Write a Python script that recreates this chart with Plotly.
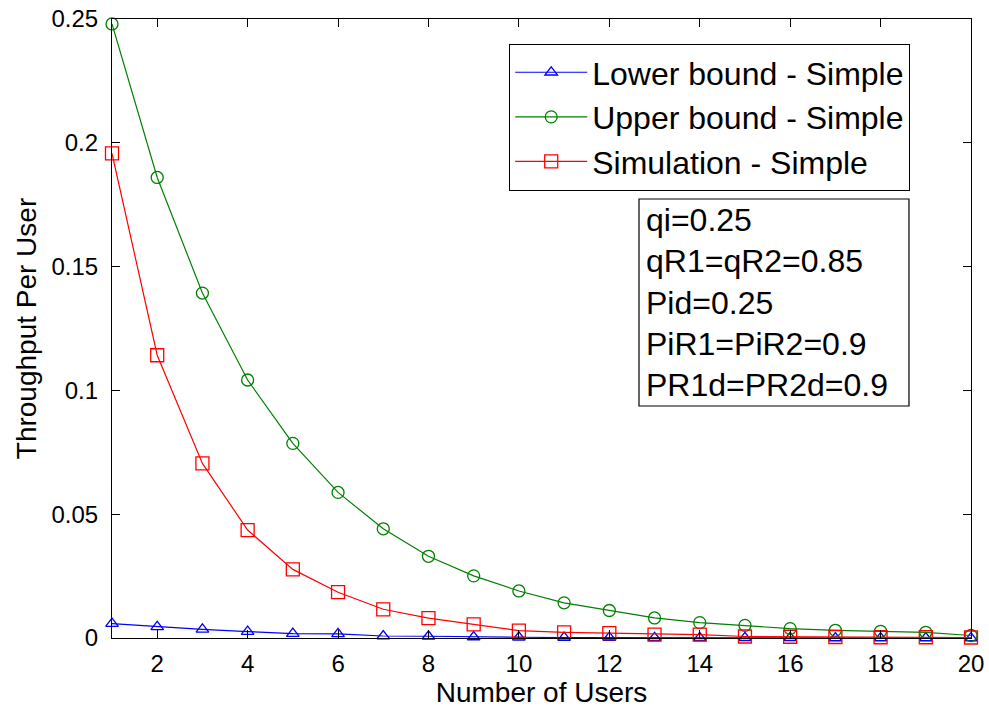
import plotly.graph_objects as go

# Number of users on the x axis
users = list(range(1, 21))

# Throughput per user for each curve
lower_bound = [0.0058, 0.0045, 0.0035, 0.0026, 0.0018, 0.0017, 0.0008, 0.0007, 0.0004, 0.0003,
               0.0002, 0.0002, 0.0001, 0.0001, 0.0001, 0.0001, 0.0, 0.0, 0.0, 0.0]
upper_bound = [0.248, 0.186, 0.1393, 0.1042, 0.0786, 0.0588, 0.0441, 0.0330, 0.0251, 0.0190,
               0.0142, 0.0111, 0.0081, 0.0062, 0.0051, 0.0038, 0.0031, 0.0027, 0.0023, 0.0010]
simulation = [0.1957, 0.1142, 0.0705, 0.0436, 0.0277, 0.0185, 0.0116, 0.0080, 0.0055, 0.0030,
              0.0023, 0.0020, 0.0014, 0.0014, 0.0006, 0.0005, 0.0004, 0.0003, 0.0003, 0.0002]

series_names = ["Lower bound - Simple", "Upper bound - Simple", "Simulation - Simple"]
x_ticks = [2, 4, 6, 8, 10, 12, 14, 16, 18, 20]
y_ticks = [0, 0.05, 0.1, 0.15, 0.2, 0.25]
y_tick_text = ["0", "0.05", "0.1", "0.15", "0.2", "0.25"]
params_text = ["qi=0.25", "qR1=qR2=0.85", "Pid=0.25", "PiR1=PiR2=0.9", "PR1d=PR2d=0.9"]

FONT = "Liberation Sans, Arial, sans-serif"

fig = go.Figure()
styles = [
    (lower_bound, "#0000ff", "triangle-up-open", 11),
    (upper_bound, "#008000", "circle-open", 12),
    (simulation, "#ff0000", "square-open", 13),
]
for name, (vals, color, symbol, size) in zip(series_names, styles):
    fig.add_trace(go.Scatter(
        x=users, y=vals, name=name, mode="lines+markers",
        line=dict(color=color, width=1.2),
        marker=dict(symbol=symbol, size=size, color=color, line=dict(width=1.3, color=color)),
        cliponaxis=False,
    ))

axis_common = dict(
    showline=True, linecolor="black", linewidth=1.2, mirror="ticks",
    ticks="inside", ticklen=8, tickcolor="black", tickwidth=1.2,
    showgrid=False, zeroline=False, automargin=False,
    tickfont=dict(family=FONT, size=24, color="black"),
)

fig.update_xaxes(
    range=[1, 20], tickvals=x_ticks, ticklabelstandoff=4,
    title=dict(text="Number of Users", font=dict(family=FONT, size=28, color="black"), standoff=4),
    **axis_common,
)
fig.update_yaxes(
    range=[0, 0.25], tickvals=y_ticks, ticktext=y_tick_text, ticklabelstandoff=8,
    title=dict(text="Throughput Per User", font=dict(family=FONT, size=28, color="black"), standoff=6),
    **axis_common,
)

# Parameter box: a framed rectangle with one text line per parameter
box_x0, box_x1, box_y0, box_y1 = 0.6135, 0.9278, 0.3748, 0.7092
fig.add_shape(
    type="rect", xref="paper", yref="paper",
    x0=box_x0, x1=box_x1, y0=box_y0, y1=box_y1,
    line=dict(color="black", width=1.2), fillcolor="white", layer="above",
)
line_step = (box_y1 - box_y0) / len(params_text)
for i, line in enumerate(params_text):
    fig.add_annotation(
        xref="paper", yref="paper", x=box_x0 + 0.006, y=box_y1 - line_step * (i + 0.5),
        xanchor="left", yanchor="middle", text=line, showarrow=False,
        font=dict(family=FONT, size=32, color="black"),
    )

fig.update_layout(
    width=989, height=711,
    margin=dict(l=112, r=18, t=19, b=73),
    paper_bgcolor="white", plot_bgcolor="white",
    font=dict(family=FONT, color="black"),
    legend=dict(
        x=0.929, y=0.96, xanchor="right", yanchor="top",
        bordercolor="black", borderwidth=1.2, bgcolor="white",
        font=dict(family=FONT, size=32, color="black"),
        itemwidth=72, tracegroupgap=0,
    ),
    showlegend=True,
)

fig.write_html("out.html")
